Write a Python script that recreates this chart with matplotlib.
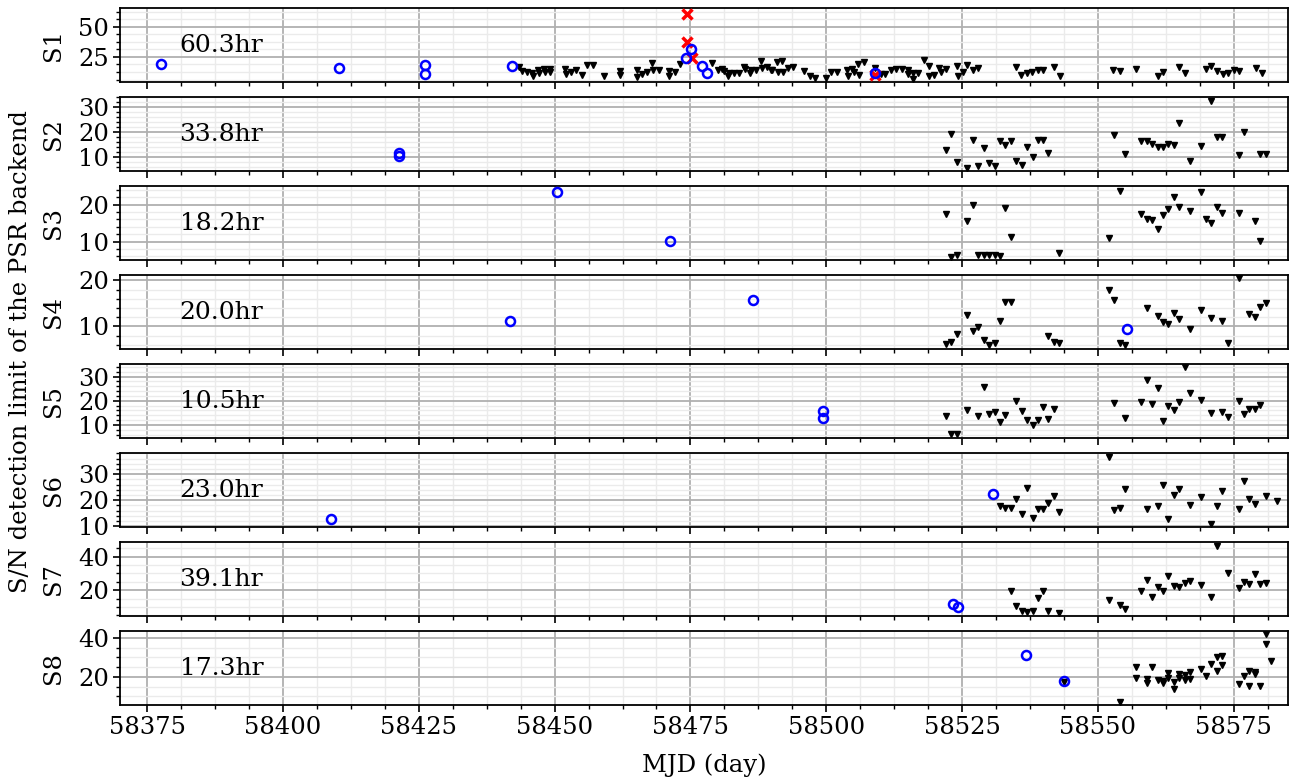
import matplotlib
matplotlib.use("Agg")
import matplotlib.pyplot as plt
from matplotlib.ticker import MultipleLocator, AutoMinorLocator

plt.rcParams['font.family'] = ['DejaVu Serif']

panel_names = ["S1", "S2", "S3", "S4", "S5", "S6", "S7", "S8"]
exposures = ["60.3hr", "33.8hr", "18.2hr", "20.0hr", "10.5hr", "23.0hr", "39.1hr", "17.3hr"]

# ---- S1 ----
s1_det_mjd = [58377.5, 58410.3, 58426.2, 58426.2, 58442.1, 58474.1, 58475.2, 58477.1, 58478.0, 58509.0]
s1_det_snr = [18.9, 16.1, 18.1, 10.6, 17.8, 24.4, 31.7, 17.2, 11.7, 11.7]
s1_x_mjd = [58474.3, 58474.3, 58475.3, 58509.0]
s1_x_snr = [60.5, 37.5, 24.5, 10.2]
s1_lim_mjd = [58443.4, 58444.0, 58445.0, 58445.9, 58446.1, 58447.0, 58447.1, 58448.0, 58448.2,
              58449.1, 58449.2, 58451.9, 58452.1, 58453.0, 58454.0, 58455.0, 58455.9, 58457.0,
              58459.1, 58462.1, 58462.1, 58465.1, 58465.1, 58466.0, 58467.0, 58468.0, 58468.1,
              58469.2, 58471.1, 58471.1, 58472.1, 58473.0,
              58478.9, 58480.0, 58480.9, 58481.2, 58481.9, 58482.1, 58483.0, 58483.9, 58484.9,
              58485.1, 58486.0, 58486.2, 58487.1, 58488.0, 58488.1, 58489.1, 58489.9, 58490.1,
              58491.0, 58491.1, 58491.9, 58492.0, 58493.0, 58493.8, 58496.0, 58497.0, 58497.9,
              58500.0, 58500.9, 58502.0, 58503.8, 58504.0, 58504.8, 58505.2, 58505.9, 58506.0,
              58507.0, 58509.0, 58510.0, 58510.9, 58511.9, 58512.9, 58513.9, 58515.0, 58515.1,
              58516.0, 58516.0, 58516.9, 58518.0, 58518.9, 58519.0, 58519.9, 58520.8, 58521.2,
              58522.1, 58524.0, 58524.2, 58525.1, 58526.0, 58527.0, 58527.9,
              58535.0, 58535.9, 58537.0, 58537.9, 58538.9, 58539.9, 58542.0, 58543.0,
              58552.8, 58554.1, 58557.1, 58561.0, 58562.0, 58565.0, 58566.1, 58569.9, 58570.9,
              58572.0, 58573.1, 58574.0, 58575.0, 58575.9, 58579.1, 58580.2]
s1_lim_snr = [16.7, 13.3, 12.5, 11.7, 8.9, 14.4, 11.7, 15.0, 12.5,
              15.3, 12.5, 15.3, 11.1, 12.5, 13.9, 9.7, 18.1, 18.1,
              8.9, 13.3, 9.7, 14.4, 8.3, 10.6, 12.5, 20.0, 14.4,
              14.4, 13.3, 8.9, 12.5, 18.9,
              20.0, 13.9, 14.7, 13.3, 8.9, 11.9, 11.7, 11.9, 16.7,
              14.7, 11.7, 13.9, 13.9, 21.4, 15.8, 16.7, 14.4, 13.9,
              20.8, 12.5, 21.7, 12.5, 15.8, 16.7, 13.1, 8.9, 7.5,
              7.8, 12.5, 12.5, 14.4, 8.9, 15.3, 12.5, 18.9, 9.7,
              20.8, 15.8, 10.6, 10.6, 13.9, 14.7, 14.7, 13.9, 11.1,
              11.7, 6.4, 11.7, 22.2, 17.2, 8.9, 9.7, 15.8, 12.5,
              15.3, 17.2, 8.9, 12.5, 18.1, 13.9, 15.8,
              16.7, 9.7, 11.7, 12.5, 14.4, 14.4, 16.7, 8.9,
              13.9, 13.1, 15.3, 8.9, 12.5, 16.7, 11.7, 15.3, 17.2,
              13.3, 10.6, 11.7, 13.9, 13.3, 16.1, 11.7]

# ---- S2 ----
s2_det_mjd = [58421.3, 58421.3]
s2_det_snr = [11.7, 10.4]
s2_lim_mjd = [58522.0, 58523.0, 58524.0, 58526.0, 58527.0, 58528.0, 58529.0, 58530.0, 58531.0,
              58532.0, 58533.0, 58534.0, 58535.0, 58536.0, 58537.0, 58538.0, 58538.9, 58539.9,
              58540.9, 58553.0, 58555.0, 58558.0, 58559.0, 58560.0, 58561.0, 58562.0, 58563.0,
              58564.0, 58565.0, 58567.0, 58568.9, 58570.9, 58571.9, 58572.9, 58575.9, 58576.9,
              58579.9, 58580.9]
s2_lim_snr = [12.7, 19.1, 8.0, 5.6, 16.7, 6.3, 13.6, 7.7, 6.3,
              16.4, 14.7, 16.4, 8.3, 6.7, 14.0, 10.0, 16.7, 16.7,
              11.6, 18.7, 11.3, 16.4, 16.4, 15.3, 14.0, 14.0, 15.1,
              14.7, 23.6, 8.3, 14.4, 32.4, 18.0, 18.0, 10.7, 20.0,
              11.3, 11.3]

# ---- S3 ----
s3_det_mjd = [58450.4, 58471.3]
s3_det_snr = [23.5, 10.2]
s3_lim_mjd = [58522.0, 58523.0, 58524.0, 58526.0, 58527.0, 58528.0, 58529.0, 58530.0, 58531.0,
              58532.0, 58533.0, 58534.0, 58542.9, 58552.0, 58554.0, 58558.0, 58559.0, 58560.0,
              58561.0, 58562.0, 58563.0, 58564.0, 58565.0, 58567.0, 58568.9, 58569.9, 58570.9,
              58571.9, 58572.9, 58575.9, 58578.9, 58579.9]
s3_lim_snr = [17.5, 5.9, 6.4, 15.6, 20.0, 6.4, 6.4, 6.4, 6.4,
              6.2, 19.1, 11.2, 6.8, 11.1, 23.6, 17.5, 16.2, 15.9,
              13.5, 17.1, 18.9, 22.1, 19.5, 18.2, 23.4, 16.2, 15.0,
              19.5, 17.7, 17.7, 15.5, 10.2]

# ---- S4 ----
s4_det_mjd = [58441.7, 58486.5, 58555.3]
s4_det_snr = [11.1, 15.7, 9.4]
s4_lim_mjd = [58522.0, 58523.0, 58524.0, 58526.0, 58527.0, 58528.0, 58529.0, 58530.0, 58531.0,
              58532.0, 58533.0, 58534.0, 58540.9, 58541.9, 58542.9, 58552.0, 58553.0, 58554.0,
              58555.0, 58559.0, 58561.0, 58562.0, 58563.0, 58564.0, 58565.0, 58567.0, 58568.9,
              58570.9, 58572.9, 58573.9, 58575.9, 58577.9, 58578.9, 58579.9, 58580.9]
s4_lim_snr = [6.2, 6.6, 8.3, 12.4, 9.1, 9.8, 7.1, 6.0, 6.4,
              11.2, 15.4, 15.3, 8.0, 6.6, 6.4, 17.8, 15.8, 6.5,
              5.9, 14.0, 12.2, 10.9, 10.5, 12.9, 11.7, 9.5, 13.6,
              11.8, 11.2, 6.5, 20.5, 12.7, 12.0, 14.3, 15.1]

# ---- S5 ----
s5_det_mjd = [58499.5, 58499.5]
s5_det_snr = [15.9, 12.9]
s5_lim_mjd = [58522.0, 58523.0, 58524.0, 58526.0, 58528.0, 58529.0, 58530.0, 58531.0, 58532.0,
              58533.0, 58535.0, 58536.0, 58537.0, 58538.0, 58538.9, 58539.9, 58540.9, 58541.9,
              58553.0, 58555.0, 58558.0, 58559.0, 58560.0, 58561.0, 58562.0, 58563.0, 58564.0,
              58565.0, 58566.0, 58567.0, 58568.9, 58570.9, 58572.9, 58573.9, 58575.9, 58576.9,
              58577.9, 58578.9, 58579.9]
s5_lim_snr = [13.8, 6.4, 6.4, 16.3, 13.6, 25.5, 14.5, 15.2, 11.2,
              14.2, 20.0, 15.6, 12.2, 10.1, 12.2, 17.3, 12.6, 16.6,
              19.0, 12.9, 19.7, 28.6, 18.6, 25.2, 11.5, 17.7, 16.3,
              19.7, 33.8, 23.2, 20.4, 14.9, 15.2, 13.3, 20.0, 14.5,
              16.7, 16.7, 18.1]

# ---- S6 ----
s6_det_mjd = [58408.9, 58530.7]
s6_det_snr = [12.7, 22.6]
s6_lim_mjd = [58532.0, 58533.0, 58534.0, 58535.0, 58536.0, 58537.0, 58538.0, 58538.9, 58539.9,
              58540.9, 58541.9, 58542.9, 58552.0, 58553.0, 58554.0, 58555.0, 58559.0, 58561.0,
              58562.0, 58563.0, 58564.0, 58565.0, 58567.0, 58568.9, 58570.9, 58571.9, 58572.9,
              58575.9, 58576.9, 58577.9, 58578.9, 58580.9, 58582.9]
s6_lim_snr = [17.7, 17.2, 17.2, 20.3, 14.9, 24.8, 13.0, 16.8, 16.8,
              19.0, 21.6, 15.3, 36.8, 16.2, 17.2, 24.3, 16.6, 17.7,
              25.7, 12.7, 22.0, 24.2, 18.1, 21.1, 10.8, 17.7, 23.5,
              16.5, 27.4, 20.6, 18.5, 21.6, 19.8]

# ---- S7 ----
s7_det_mjd = [58523.3, 58524.3]
s7_det_snr = [11.9, 9.9]
s7_lim_mjd = [58534.0, 58535.0, 58536.0, 58537.0, 58538.0, 58538.9, 58539.9, 58540.9, 58542.9,
              58552.0, 58554.0, 58555.0, 58558.0, 58559.0, 58560.0, 58561.0, 58562.0, 58563.0,
              58564.0, 58565.0, 58566.0, 58567.0, 58568.9, 58570.9, 58571.9, 58573.9, 58575.9,
              58576.9, 58577.9, 58578.9, 58579.9, 58580.9]
s7_lim_snr = [19.2, 10.5, 7.5, 6.9, 7.3, 15.2, 19.4, 7.5, 6.3,
              14.1, 11.1, 8.9, 19.4, 25.9, 15.8, 22.0, 19.2, 28.7,
              22.4, 21.6, 24.4, 25.3, 22.8, 15.8, 46.1, 30.1, 21.4,
              25.1, 23.6, 29.7, 23.8, 24.2]

# ---- S8 ----
s8_det_mjd = [58536.8, 58543.7]
s8_det_snr = [31.1, 17.8]
s8_lim_mjd = [58543.7, 58554.0, 58557.0, 58557.0, 58559.0, 58559.0, 58560.0, 58561.0, 58562.0,
              58562.0, 58563.0, 58563.0, 58564.0, 58564.0, 58565.0, 58565.0, 58566.0, 58566.0,
              58567.0, 58567.0, 58568.9, 58569.9, 58570.9, 58571.9, 58571.9, 58572.9, 58572.9,
              58575.9, 58576.9, 58577.9, 58577.9, 58578.9, 58578.9, 58579.9, 58580.9, 58580.9,
              58581.9]
s8_lim_snr = [17.4, 7.2, 25.1, 19.5, 19.1, 16.9, 24.8, 18.6, 17.8,
              16.9, 22.1, 19.5, 17.4, 13.7, 21.2, 19.5, 20.9, 18.6,
              22.2, 19.1, 23.8, 20.3, 26.5, 30.3, 22.9, 30.8, 26.0,
              16.2, 20.3, 22.9, 15.4, 22.2, 21.2, 15.4, 41.9, 36.6,
              28.0]

det_mjd = [s1_det_mjd, s2_det_mjd, s3_det_mjd, s4_det_mjd, s5_det_mjd, s6_det_mjd, s7_det_mjd, s8_det_mjd]
det_snr = [s1_det_snr, s2_det_snr, s3_det_snr, s4_det_snr, s5_det_snr, s6_det_snr, s7_det_snr, s8_det_snr]
lim_mjd = [s1_lim_mjd, s2_lim_mjd, s3_lim_mjd, s4_lim_mjd, s5_lim_mjd, s6_lim_mjd, s7_lim_mjd, s8_lim_mjd]
lim_snr = [s1_lim_snr, s2_lim_snr, s3_lim_snr, s4_lim_snr, s5_lim_snr, s6_lim_snr, s7_lim_snr, s8_lim_snr]

ylims = [(4.2, 65.3), (4.3, 34.0), (5.0, 25.0), (5.1, 21.1), (4.6, 35.1), (9.7, 38.1), (4.6, 48.5), (5.5, 43.4)]
ymajor = [25, 10, 10, 10, 10, 10, 20, 20]
yminor_div = [4, 5, 5, 5, 5, 5, 4, 4]

fig, axes = plt.subplots(8, 1, sharex=True, figsize=(12.96, 7.81), dpi=100)
fig.subplots_adjust(left=0.0926, right=0.9938, top=0.9894, bottom=0.0973, hspace=0.206)

for i, ax in enumerate(axes):
    ax.plot(lim_mjd[i], lim_snr[i], linestyle='none', marker='v', color='black', markersize=4.5, zorder=3)
    if i == 0:
        ax.plot(s1_x_mjd, s1_x_snr, linestyle='none', marker='x', color='red', markersize=7,
                markeredgewidth=2.5, zorder=4)
    ax.plot(det_mjd[i], det_snr[i], linestyle='none', marker='o', markerfacecolor='none',
            markeredgecolor='blue', markersize=6.5, markeredgewidth=1.8, zorder=5)
    ax.set_ylim(*ylims[i])
    ax.yaxis.set_major_locator(MultipleLocator(ymajor[i]))
    ax.yaxis.set_minor_locator(AutoMinorLocator(yminor_div[i]))
    ax.xaxis.set_major_locator(MultipleLocator(25))
    ax.xaxis.set_minor_locator(AutoMinorLocator(4))
    ax.grid(which='major', color='#b0b0b0', linewidth=1.3)
    ax.grid(which='minor', color='#ebebeb', linewidth=1.0)
    ax.set_axisbelow(True)
    ax.tick_params(axis='both', which='major', labelsize=17.5, length=5, width=1.2, pad=3)
    ax.tick_params(axis='both', which='minor', length=3, width=1.0)
    for sp in ax.spines.values():
        sp.set_linewidth(1.3)
    ax.set_ylabel(panel_names[i], fontsize=17.5)
    ax.yaxis.set_label_coords(-0.047, 0.5)
    ax.text(0.051, 0.5, exposures[i], transform=ax.transAxes, fontsize=18, ha='left', va='center')

axes[-1].set_xlim(58370, 58585)
axes[-1].set_xlabel("MJD (day)", fontsize=17.5, labelpad=10)
fig.text(0.016, 0.55, "S/N detection limit of the PSR backend", rotation=90, fontsize=17.5,
         ha='center', va='center')

fig.savefig("out.png", dpi=100)
